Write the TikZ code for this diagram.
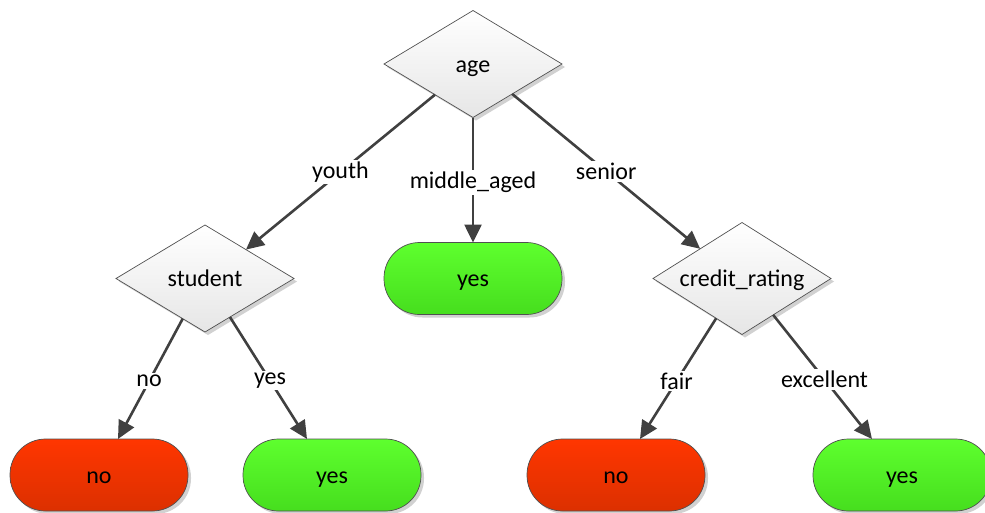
\documentclass[tikz,border=0pt]{standalone}
\usepackage{fontspec}
\setmainfont{Carlito}
\usetikzlibrary{shapes.geometric,arrows.meta,calc,shadows}
\definecolor{edgecol}{HTML}{404040}
\definecolor{bordercol}{HTML}{505050}
\definecolor{greentop}{HTML}{5EFF2E}
\definecolor{greenbot}{HTML}{46DE1E}
\definecolor{redtop}{HTML}{FF3600}
\definecolor{redbot}{HTML}{DC3000}
\definecolor{diatop}{HTML}{FFFFFF}
\definecolor{diabot}{HTML}{E6E6E6}
\tikzset{
  every node/.style={font=\fontsize{24}{28}\selectfont},
  shad/.style={drop shadow={opacity=0.18,shadow xshift=3pt,shadow yshift=-3pt,fill=black}},
  centred/.style={text height=16pt,text depth=0pt},
  decision/.style={diamond,aspect=1.66,draw=bordercol,line width=0.7pt,inner sep=0pt,outer sep=0pt,
     top color=diatop,bottom color=diabot,minimum width=178pt,minimum height=107pt,shad,centred},
  leafyes/.style={rectangle,rounded corners=35.5pt,draw=bordercol,line width=0.7pt,outer sep=0pt,
     top color=greentop,bottom color=greenbot,minimum width=178pt,minimum height=72pt,shad,centred},
  leafno/.style={leafyes,top color=redtop,bottom color=redbot},
  branch/.style={draw=edgecol,line width=2.6pt,-{Triangle[length=18pt,width=17pt]}},
  lbl/.style={fill=white,inner sep=2pt,pos=0.5}
}
\begin{document}
\begin{tikzpicture}[x=1pt,y=-1pt]
\useasboundingbox (0,0) rectangle (985,512);
\node[decision] (age) at (473,64) {age};
\node[decision] (student) at (205,278.5) {student};
\node[decision,minimum height=112pt] (credit) at (742,278.5) {credit\_rating};
\node[leafyes] (yesm) at (473,278.5) {yes};
\node[leafno] (no1) at (99,475) {no};
\node[leafyes] (yes1) at (332,475) {yes};
\node[leafno] (no2) at (616,475) {no};
\node[leafyes] (yes2) at (902,475) {yes};

\coordinate (a1) at ($(age.west)!0.573!(age.south)$);
\coordinate (a3) at ($(age.south)!0.44!(age.east)$);
\coordinate (s0) at ($(student.north)!0.46!(student.east)$);
\coordinate (c0) at ($(credit.west)!0.53!(credit.north)$);
\coordinate (s1) at ($(student.west)!0.75!(student.south)$);
\coordinate (s2) at ($(student.south)!0.28!(student.east)$);
\coordinate (c1) at ($(credit.west)!0.71!(credit.south)$);
\coordinate (c2) at ($(credit.south)!0.35!(credit.east)$);

\draw[branch] (a1) -- node[lbl] {youth} (s0);
\draw[branch] (age.south) -- node[lbl,pos=0.52] {middle\_aged} (yesm.north);
\draw[branch] (a3) -- node[lbl] {senior} (c0);
\draw[branch] (s1) -- node[lbl,pos=0.52] {no} ([xshift=19pt]no1.north);
\draw[branch] (s2) -- node[lbl,pos=0.52] {yes} ([xshift=-25pt]yes1.north);
\draw[branch] (c1) -- node[lbl,pos=0.52] {fair} ([xshift=24pt]no2.north);
\draw[branch] (c2) -- node[lbl,pos=0.52] {excellent} ([xshift=-30pt]yes2.north);
\end{tikzpicture}
\end{document}
